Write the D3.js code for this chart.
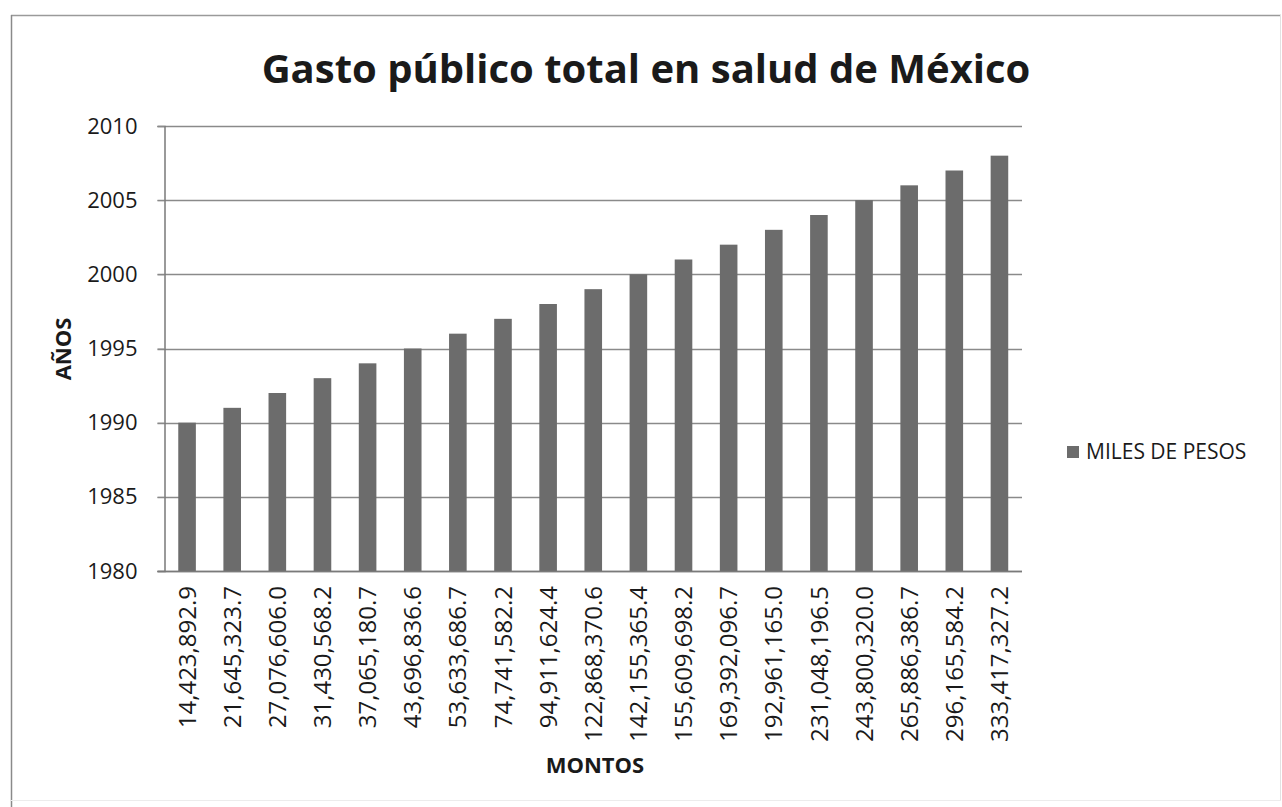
<!DOCTYPE html>
<html>
<head>
<meta charset="utf-8">
<script src="https://cdn.jsdelivr.net/npm/d3@7"></script>
<style>
  html, body { margin: 0; padding: 0; background: #fff; }
  svg { display: block; }
  text { font-family: "Open Sans", "Noto Sans", sans-serif; fill: #1a1a1a; }
</style>
</head>
<body>
<svg id="chart" width="1282" height="807"></svg>
<script>
// Public health spending in Mexico (thousands of pesos) per year
const montos = [
  "14,423,892.9", "21,645,323.7", "27,076,606.0", "31,430,568.2", "37,065,180.7",
  "43,696,836.6", "53,633,686.7", "74,741,582.2", "94,911,624.4", "122,868,370.6",
  "142,155,365.4", "155,609,698.2", "169,392,096.7", "192,961,165.0", "231,048,196.5",
  "243,800,320.0", "265,886,386.7", "296,165,584.2", "333,417,327.2"
];
const anios = [
  1990, 1991, 1992, 1993, 1994, 1995, 1996, 1997, 1998, 1999,
  2000, 2001, 2002, 2003, 2004, 2005, 2006, 2007, 2008
];
const yTicks = [1980, 1985, 1990, 1995, 2000, 2005, 2010];
const titulo = "Gasto público total en salud de México";
const serie = "MILES DE PESOS";

const svg = d3.select("#chart");

// outer chart frame
const frame = svg.append("g");
frame.append("line").attr("x1", 11).attr("x2", 1281).attr("y1", 15.5).attr("y2", 15.5)
  .attr("stroke", "#9a9a9a").attr("stroke-width", 1.5);
frame.append("line").attr("x1", 11.5).attr("x2", 11.5).attr("y1", 15).attr("y2", 807)
  .attr("stroke", "#8a8a8a").attr("stroke-width", 1.5);
frame.append("line").attr("x1", 1280.5).attr("x2", 1280.5).attr("y1", 15).attr("y2", 800)
  .attr("stroke", "#e2e2e2").attr("stroke-width", 1);
frame.append("line").attr("x1", 11).attr("x2", 1281).attr("y1", 800.5).attr("y2", 800.5)
  .attr("stroke", "#ececec").attr("stroke-width", 1);

const plot = { left: 164.5, right: 1022, top: 126, bottom: 571 };

const x = d3.scaleBand()
  .domain(montos)
  .range([plot.left, plot.right])
  .paddingInner(0.61)
  .paddingOuter(0.305);

const y = d3.scaleLinear()
  .domain([1980, 2010])
  .range([plot.bottom, plot.top]);

// horizontal gridlines
svg.append("g")
  .selectAll("line")
  .data(yTicks)
  .join("line")
  .attr("x1", plot.left - 7)
  .attr("x2", plot.right)
  .attr("y1", d => Math.round(y(d)) + 0.5)
  .attr("y2", d => Math.round(y(d)) + 0.5)
  .attr("stroke", "#8a8a8a")
  .attr("stroke-width", 1.3);

// bars
svg.append("g")
  .selectAll("rect")
  .data(anios)
  .join("rect")
  .attr("x", (d, i) => x(montos[i]))
  .attr("width", x.bandwidth())
  .attr("y", d => y(d))
  .attr("height", d => y(1980) - y(d))
  .attr("fill", "#6c6c6c");

// y axis
const yAxis = svg.append("g")
  .attr("transform", `translate(${plot.left},0)`)
  .call(d3.axisLeft(y).tickValues(yTicks).tickFormat(d3.format("d")).tickSize(7).tickPadding(20));
yAxis.select(".domain").attr("stroke", "#7a7a7a").attr("stroke-width", 1.5);
yAxis.selectAll(".tick line").attr("stroke", "#8a8a8a");
yAxis.selectAll(".tick text")
  .style("font-size", "22px")
  .attr("fill", "#1a1a1a");

// x axis with rotated amount labels
const xAxis = svg.append("g")
  .attr("transform", `translate(0,${plot.bottom})`)
  .call(d3.axisBottom(x).tickSize(0).tickPadding(0));
xAxis.select(".domain").attr("stroke", "#7a7a7a").attr("stroke-width", 1.5)
  .attr("d", `M${plot.left - 7},0.5H${plot.right}`);
xAxis.selectAll(".tick text")
  .style("font-size", "24px")
  .attr("fill", "#1a1a1a")
  .attr("transform", "rotate(-90)")
  .attr("text-anchor", "end")
  .attr("dy", "0.36em")
  .attr("x", -15)
  .attr("y", 0);

// title
svg.append("text")
  .attr("x", 646)
  .attr("y", 83)
  .attr("text-anchor", "middle")
  .style("font-size", "40px")
  .style("font-weight", "700")
  .text(titulo);

// axis titles
svg.append("text")
  .attr("x", 595)
  .attr("y", 773)
  .attr("text-anchor", "middle")
  .style("font-size", "22px")
  .style("font-weight", "700")
  .text("MONTOS");

svg.append("text")
  .attr("transform", "translate(71,349) rotate(-90)")
  .attr("text-anchor", "middle")
  .style("font-size", "22px")
  .style("font-weight", "700")
  .text("AÑOS");

// legend
const legend = svg.append("g").attr("transform", "translate(1067,452)");
legend.append("rect")
  .attr("x", 0).attr("y", -6)
  .attr("width", 12).attr("height", 12)
  .attr("fill", "#6c6c6c");
legend.append("text")
  .attr("x", 19)
  .attr("y", 0)
  .attr("dy", "0.35em")
  .style("font-size", "21px")
  .text(serie);
</script>
</body>
</html>
